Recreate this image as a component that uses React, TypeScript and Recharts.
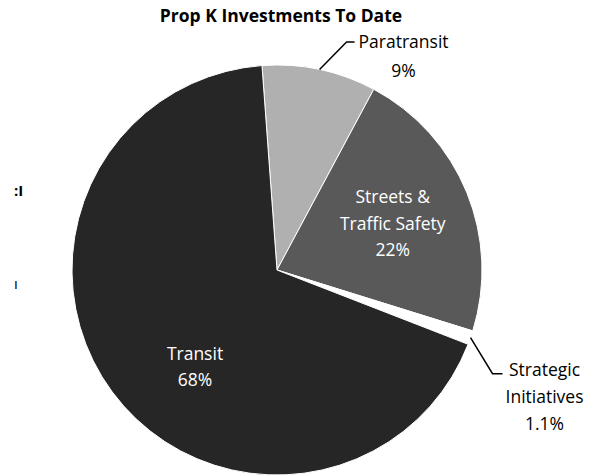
import React from 'react'
import { PieChart, Pie, Cell } from 'recharts'

const categories = ['Paratransit', 'Streets & Traffic Safety', 'Strategic Initiatives', 'Transit']
const shares = [9, 22, 1.1, 68]
const shareLabels = ['9%', '22%', '1.1%', '68%']
const colors = ['#b0b0b0', '#595959', '#ffffff', '#262626']

// label text lines per slice
const labelLines = [['Paratransit'], ['Streets &', 'Traffic Safety'], ['Strategic', 'Initiatives'], ['Transit']]

const data = categories.map((name, i) => ({ name, value: shares[i], pct: shareLabels[i], lines: labelLines[i] }))

const FONT = '"Open Sans", sans-serif'
const RAD = Math.PI / 180

const renderLabel = (props: any) => {
  const { cx, cy, midAngle, outerRadius, index } = props
  const d = data[index]
  const lines = [...d.lines, d.pct]
  const cos = Math.cos(-midAngle * RAD)
  const sin = Math.sin(-midAngle * RAD)
  const lh = 26.5

  if (index === 1 || index === 3) {
    // inside labels
    let x = cx + outerRadius * 0.61 * cos
    let y = cy + outerRadius * 0.61 * sin
    if (index === 3) {
      x = cx - 82
      y = cy + 96
    }
    const top = y - ((lines.length - 1) * lh) / 2
    return (
      <text x={x} y={top} fill="#fff" fontSize={17.5} fontFamily={FONT} textAnchor="middle" dominantBaseline="central">
        {lines.map((l, i) => (
          <tspan key={i} x={x} y={top + i * lh}>{l}</tspan>
        ))}
      </text>
    )
  }

  // outside labels with leader lines
  const sx = cx + outerRadius * cos
  const sy = cy + outerRadius * sin
  let ex: number, ey: number, hx: number, tx: number, ty: number, gap: number
  if (index === 0) {
    ex = sx + 27
    ey = sy - 27.5
    hx = ex + 8
    tx = hx + 49
    ty = ey - 1
    gap = 29
  } else {
    ex = sx + 22
    ey = sy + 36
    hx = ex + 10
    tx = hx + 42
    ty = ey - 5
    gap = 27
  }
  return (
    <g>
      <polyline points={`${sx},${sy} ${ex},${ey} ${hx},${ey}`} stroke="#000" strokeWidth={1.5} fill="none" />
      <text x={tx} y={ty} fill="#000" fontSize={17.5} fontFamily={FONT} textAnchor="middle" dominantBaseline="central">
        {lines.map((l, i) => (
          <tspan key={i} x={tx} y={ty + i * gap}>{l}</tspan>
        ))}
      </text>
    </g>
  )
}

export default function App() {
  return (
    <div style={{ position: 'relative', width: 592, height: 476, background: '#fff' }}>
      <style>{'body{margin:0}'}</style>
      <div
        style={{
          position: 'absolute', left: 0, top: 5, width: 562, textAlign: 'center',
          fontFamily: FONT, fontWeight: 700, fontSize: 17.5, lineHeight: '20px', color: '#000',
        }}
      >
        Prop K Investments To Date
      </div>
      <div style={{ position: 'absolute', left: 14, top: 181, fontFamily: FONT, fontWeight: 700, fontSize: 15, lineHeight: '18px' }}>:I</div>
      <div style={{ position: 'absolute', left: 14, top: 274, fontFamily: FONT, fontSize: 15, lineHeight: '18px' }}>ı</div>
      <PieChart width={592} height={476} margin={{ top: 0, right: 0, bottom: 0, left: 0 }}>
        <Pie
          data={data}
          dataKey="value"
          nameKey="name"
          cx={277}
          cy={270}
          outerRadius={205}
          startAngle={94.2}
          endAngle={-265.8}
          stroke="#fff"
          strokeWidth={1}
          label={renderLabel}
          labelLine={false}
          isAnimationActive={false}
        >
          {data.map((d, i) => (
            <Cell key={d.name} fill={colors[i]} />
          ))}
        </Pie>
      </PieChart>
    </div>
  )
}
